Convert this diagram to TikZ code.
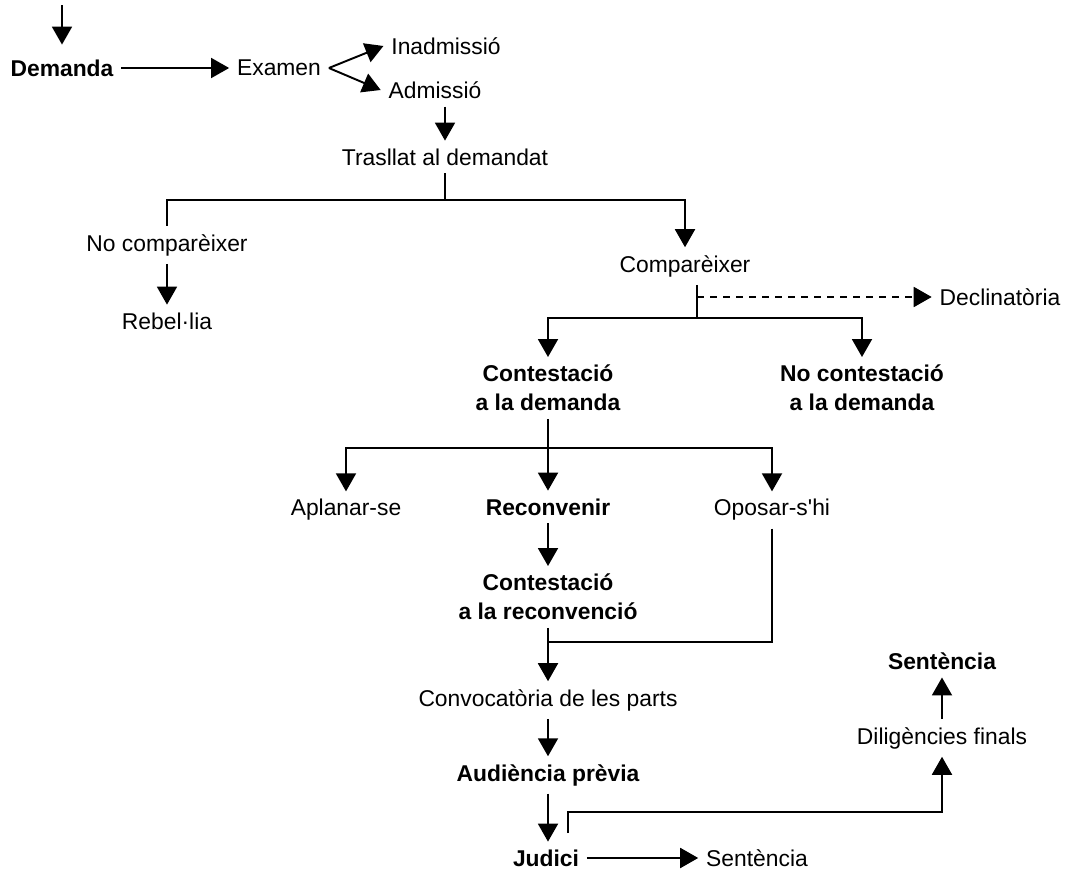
\documentclass[tikz,border=0pt]{standalone}
\usepackage{fontspec}
\setmainfont{Liberation Sans}
\usetikzlibrary{arrows.meta}

\begin{document}
\begin{tikzpicture}[x=0.02cm, y=-0.02cm, line width=1.1pt,
    lbl/.style={font=\fontsize{13}{16.5}\selectfont, inner sep=4pt, align=center},
    key/.style={font=\fontsize{13}{16.5}\selectfont\bfseries, inner sep=4pt, align=center},
    arr/.style={-{Triangle[length=0.36cm, width=0.4cm]}},
    dasharr/.style={arr, dash pattern=on 4pt off 3.4pt}]
    \useasboundingbox (0,0) rectangle (1066,872);

    % draw nodes
    \node[key] (dem) at (62,68) {Demanda};
    \node[lbl] (exa) at (279,68) {Examen};
    \node[lbl] (ina) at (446,46) {Inadmissió};
    \node[lbl] (adm) at (435,90) {Admissió};
    \node[lbl] (tra) at (445,157) {Trasllat al demandat};
    \node[lbl] (nocom) at (167,245) {No comparèixer};
    \node[lbl] (reb) at (167,321) {Rebel·lia};
    \node[lbl] (com) at (685,266) {Comparèixer};
    \node[lbl] (dec) at (1000,297) {Declinatòria};
    \node[key] (cont) at (548,388) {Contestació\\a la demanda};
    \node[key] (nocont) at (862,388) {No contestació\\a la demanda};
    \node[lbl] (apl) at (346,510) {Aplanar-se};
    \node[key] (rec) at (548,507) {Reconvenir};
    \node[lbl] (opo) at (772,510) {Oposar-s\textquotesingle hi};
    \node[key] (crec) at (548,597) {Contestació\\a la reconvenció};
    \node[lbl] (conv) at (548,700) {Convocatòria de les parts};
    \node[key] (aud) at (548,775) {Audiència prèvia};
    \node[key] (jud) at (546,858) {Judici};
    \node[lbl] (sen1) at (757,858) {Sentència};
    \node[lbl] (dil) at (942,738) {Diligències finals};
    \node[key] (sen2) at (942,661) {Sentència};

    % branch points
    \coordinate (start) at (62,5);
    \coordinate (split1) at (445,200);
    \coordinate (split2) at (697,318);
    \coordinate (dash0) at (697,297);
    \coordinate (split3) at (548,448);
    \coordinate (join1) at (548,642);
    \coordinate (jud0) at (568,833);
    \coordinate (jud1) at (568,812);

    % draw arrows
    \draw[arr, shorten >=4pt] (start) -- (dem);
    \draw[arr] (dem) -- (exa);
    \draw[arr] (exa.east) -- (ina.west);
    \draw[arr] (exa.east) -- (adm.west);
    \draw[arr] (adm.south -| tra.north) -- (tra);
    \draw (tra) -- (split1);
    \draw (split1) -| (nocom);
    \draw[arr] (split1) -| (com);
    \draw[arr] (nocom) -- (reb);
    \draw (com.south -| split2) -- (split2);
    \draw[dasharr] (dash0) -- (dec);
    \draw[arr] (split2) -| (cont);
    \draw[arr] (split2) -| (nocont);
    \draw[arr] (cont) -- (rec);
    \draw[arr] (split3) -| (apl);
    \draw[arr] (split3) -| (opo);
    \draw[arr] (rec) -- (crec);
    \draw (opo) |- (join1);
    \draw[arr] (crec) -- (conv);
    \draw[arr] (conv) -- (aud);
    \draw[arr] (aud.south) -- (aud.south |- jud.north);
    \draw[arr] (jud) -- (sen1);
    \draw[arr] (jud0) -- (jud1) -| (dil);
    \draw[arr] (dil) -- (sen2);
\end{tikzpicture}
\end{document}
